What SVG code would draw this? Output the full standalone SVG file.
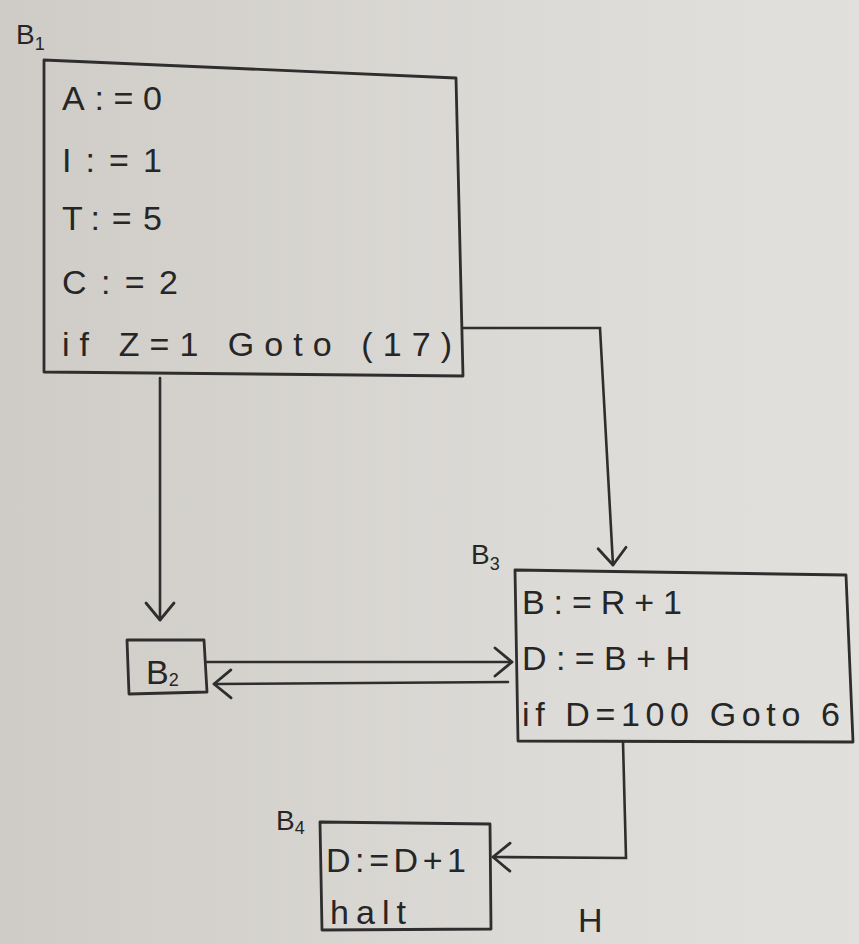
<svg xmlns="http://www.w3.org/2000/svg" width="859" height="944" viewBox="0 0 859 944">
<defs>
<linearGradient id="bg" x1="0" y1="0" x2="1" y2="0">
<stop offset="0" stop-color="#cfccc7"/>
<stop offset="0.6" stop-color="#dcdad6"/>
<stop offset="1" stop-color="#e2e0dc"/>
</linearGradient>
<marker id="chev" viewBox="0 0 12 12" refX="11" refY="6" markerWidth="12" markerHeight="12" markerUnits="userSpaceOnUse" orient="auto" overflow="visible">
<path d="M-6,-8 L11,6 L-6,20" fill="none" stroke="#2e2e2e" stroke-width="2.8" stroke-linecap="round" stroke-linejoin="round"/>
</marker>
</defs>
<style>
.box{fill:none;stroke:#2e2e2e;stroke-width:2.8;stroke-linejoin:round}
.ln{fill:none;stroke:#2e2e2e;stroke-width:2.6;stroke-linecap:round}
.t{font-family:"Liberation Sans","DejaVu Sans",sans-serif;fill:#262626;font-size:34px}
.lb{font-family:"Liberation Sans","DejaVu Sans",sans-serif;fill:#262626;font-size:28px}
.sub{font-size:18px}
</style>
<rect x="0" y="0" width="859" height="944" fill="url(#bg)"/>

<g id="connectors">
<path class="ln" d="M160,378 L160,620" marker-end="url(#chev)"/>
<path class="ln" d="M463,328 L600,328 L613,565" marker-end="url(#chev)"/>
<path class="ln" d="M207,662 L512,662" marker-end="url(#chev)"/>
<path class="ln" d="M508,682 L214,684" marker-end="url(#chev)"/>
<path class="ln" d="M623,742 L626,858 L493,857" marker-end="url(#chev)"/>
</g>

<g id="B1">
<text class="lb" x="16" y="44">B<tspan class="sub" dy="6">1</tspan></text>
<polygon class="box" points="44,60 456,78 463,376 44,372"/>
<text class="t" x="62" y="110" textLength="100" lengthAdjust="spacing">A:=0</text>
<text class="t" x="62" y="172" textLength="100" lengthAdjust="spacing">I:=1</text>
<text class="t" x="62" y="230" textLength="100" lengthAdjust="spacing">T:=5</text>
<text class="t" x="62" y="294" textLength="116" lengthAdjust="spacing">C:=2</text>
<text class="t" x="62" y="356" textLength="390" lengthAdjust="spacing">if Z=1 Goto (17)</text>
</g>

<g id="B2">
<polygon class="box" points="127,640 204,640 207,692 129,694"/>
<text class="t" x="146" y="684" font-size="30">B<tspan class="sub" font-size="20" dy="2">2</tspan></text>
</g>

<g id="B3">
<text class="lb" x="471" y="564">B<tspan class="sub" dy="6">3</tspan></text>
<polygon class="box" points="515,570 846,575 853,742 518,741"/>
<text class="t" x="522" y="614" textLength="160" lengthAdjust="spacing">B:=R+1</text>
<text class="t" x="522" y="670" textLength="168" lengthAdjust="spacing">D:=B+H</text>
<text class="t" x="522" y="726" textLength="318" lengthAdjust="spacing">if D=100 Goto 6</text>
</g>

<g id="B4">
<text class="lb" x="276" y="830">B<tspan class="sub" dy="4">4</tspan></text>
<polygon class="box" points="320,822 490,824 491,929 322,930"/>
<text class="t" x="326" y="872" textLength="140" lengthAdjust="spacing">D:=D+1</text>
<text class="t" x="330" y="924" textLength="76" lengthAdjust="spacing">halt</text>
</g>

<text class="t" x="578" y="932" font-size="28">H</text>
</svg>
